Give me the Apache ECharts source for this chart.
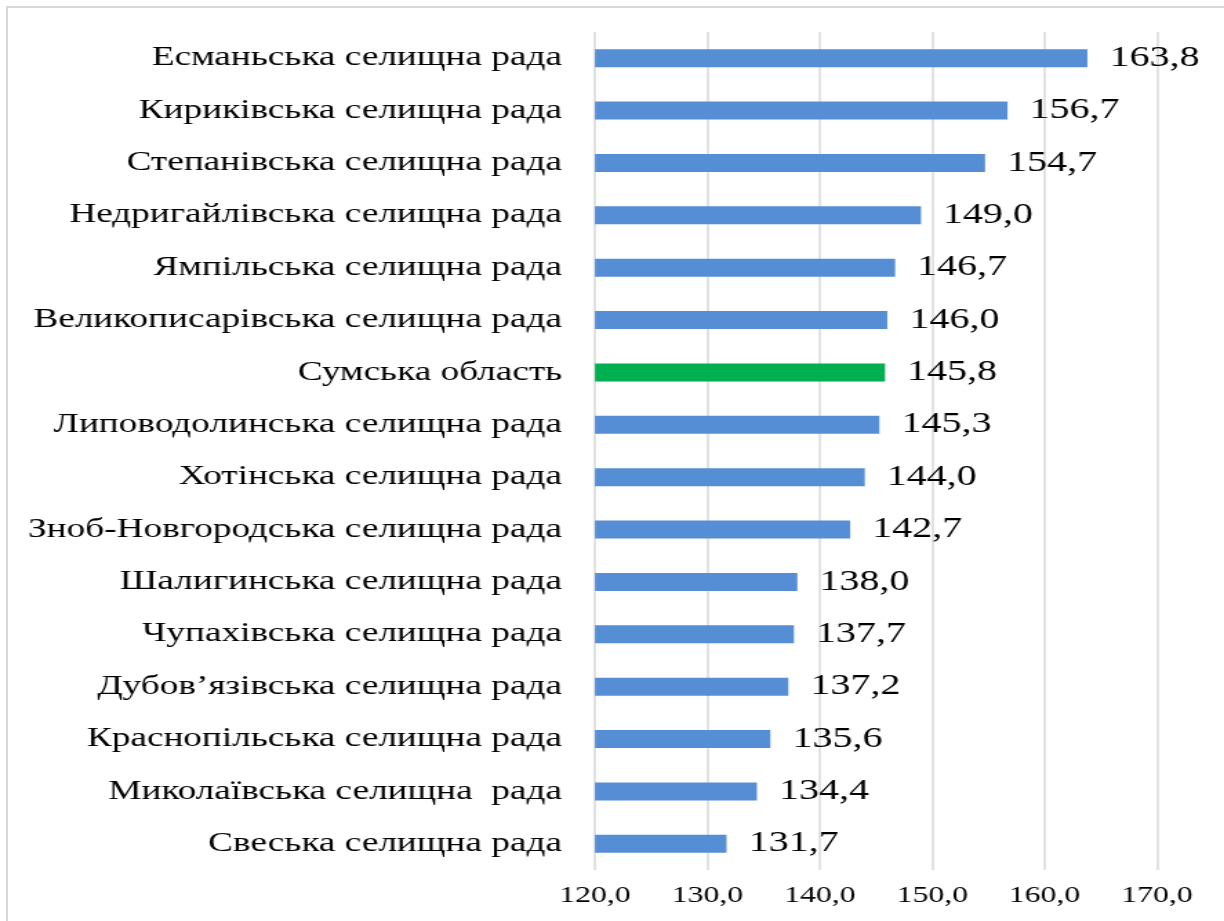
<!DOCTYPE html>
<html>
<head>
<meta charset="utf-8">
<script src="https://cdn.jsdelivr.net/npm/echarts@6/dist/echarts.min.js"></script>
<style>
    html,body{margin:0;padding:0;background:#fff;overflow:hidden;}
    #frame{position:absolute;left:6px;top:6px;width:1300px;height:1000px;border-left:2px solid #d9d9d9;border-top:2px solid #d9d9d9;}
    #main{position:absolute;left:0;top:0;height:921px;transform-origin:0 0;}
</style>
</head>
<body>
<div id="frame"></div>
<div id="main"></div>
<script>
// categories, top to bottom
var names=[
    'Есманьська селищна рада',
    'Кириківська селищна рада',
    'Степанівська селищна рада',
    'Недригайлівська селищна рада',
    'Ямпільська селищна рада',
    'Великописарівська селищна рада',
    'Сумська область',
    'Липоводолинська селищна рада',
    'Хотінська селищна рада',
    'Зноб-Новгородська селищна рада',
    'Шалигинська селищна рада',
    'Чупахівська селищна рада',
    'Дубов’язівська селищна рада',
    'Краснопільська селищна рада',
    'Миколаївська селищна  рада',
    'Свеська селищна рада'
];
var values=[163.8,156.7,154.7,149.0,146.7,146.0,145.8,145.3,144.0,142.7,138.0,137.7,137.2,135.6,134.4,131.7];
var highlight='Сумська область';

// the picture is stretched sideways, so draw narrower and scale x
var sx=1.38;
var box=document.getElementById('main');
box.style.width=(1224/sx)+'px';
box.style.transform='scaleX('+sx+')';

var serif='"Liberation Serif","DejaVu Serif",serif';
function comma(v){return v.toFixed(1).replace('.',',');}

var chart=echarts.init(box);
chart.setOption({
    animation:false,
    grid:{left:595/sx,right:67/sx,top:32,bottom:51,containLabel:false},
    xAxis:{
        type:'value',min:120,max:170,interval:10,
        axisLine:{show:false},axisTick:{show:false},
        axisLabel:{color:'#000',fontFamily:serif,fontSize:23,margin:14,formatter:comma},
        splitLine:{lineStyle:{color:'#d9d9d9',width:1.5}}
    },
    yAxis:{
        type:'category',data:names,inverse:true,
        axisLine:{show:false},axisTick:{show:false},
        axisLabel:{color:'#000',fontFamily:serif,fontSize:27,margin:33/sx}
    },
    series:[{
        type:'bar',barWidth:18,
        data:values.map(function(v,i){
            return {value:v,itemStyle:{color:names[i]===highlight?'#00b050':'#558ed5'}};
        }),
        label:{show:true,position:'right',distance:22/sx,color:'#000',fontFamily:serif,fontSize:29,
            formatter:function(p){return comma(p.value);}}
    }]
});
</script>
</body>
</html>
